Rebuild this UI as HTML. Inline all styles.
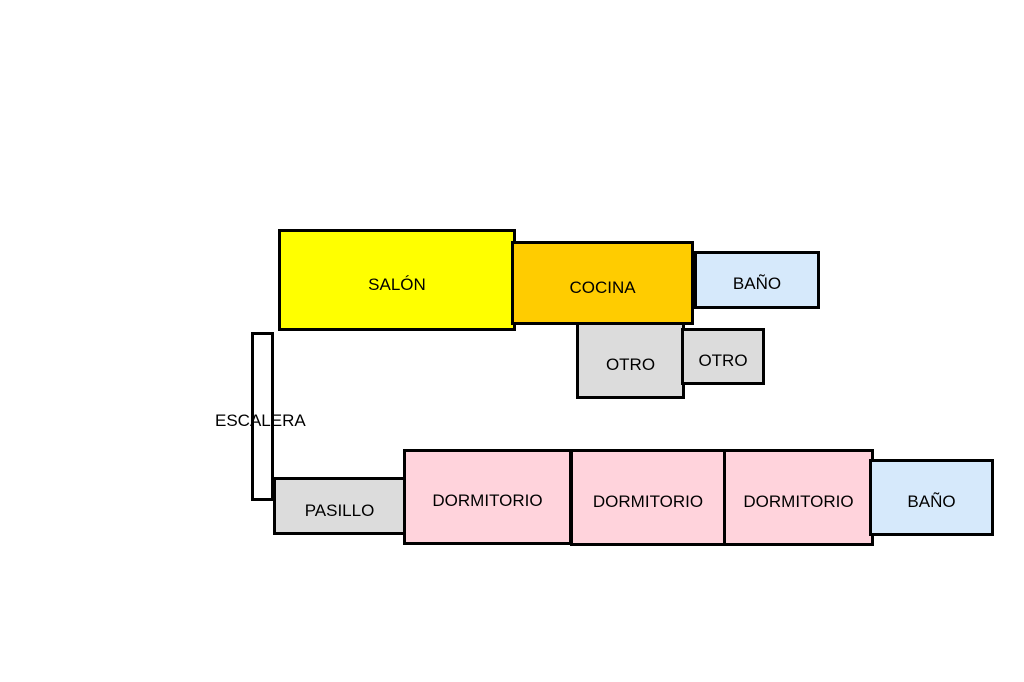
<!DOCTYPE html>
<html><head><meta charset="utf-8"><style>
body{margin:0;width:1024px;height:682px;background:#fff;position:relative;overflow:hidden;font-family:"Liberation Sans",Arial,sans-serif;}
.r{position:absolute;box-sizing:border-box;border:3px solid #000;display:flex;align-items:center;justify-content:center;font-size:17px;color:#000;}
.t{position:absolute;font-size:17px;}
</style></head><body>
<div class="r" style="left:251px;top:332px;width:23px;height:169px;background:#fff"></div>
<div class="r" style="left:278px;top:229px;width:238px;height:102px;background:#ffff00;padding-top:10px">SALÓN</div>
<div class="r" style="left:576px;top:322px;width:109px;height:77px;background:#dcdcdc;padding-top:9px">OTRO</div>
<div class="r" style="left:681px;top:328px;width:84px;height:57px;background:#dcdcdc;padding-top:9px">OTRO</div>
<div class="r" style="left:511px;top:241px;width:183px;height:84px;background:#ffcc00;padding-top:10px">COCINA</div>
<div class="r" style="left:694px;top:251px;width:126px;height:58px;background:#d6e9fb;padding-top:8px">BAÑO</div>
<div class="r" style="left:273px;top:477px;width:133px;height:58px;background:#dcdcdc;padding-top:9px">PASILLO</div>
<div class="r" style="left:403px;top:449px;width:169px;height:96px;background:#ffd3dc;padding-top:8px">DORMITORIO</div>
<div class="r" style="left:570px;top:449px;width:156px;height:97px;background:#ffd3dc;padding-top:9px">DORMITORIO</div>
<div class="r" style="left:723px;top:449px;width:151px;height:97px;background:#ffd3dc;padding-top:9px">DORMITORIO</div>
<div class="r" style="left:869px;top:459px;width:125px;height:77px;background:#d6e9fb;padding-top:9px">BAÑO</div>
<div class="t" style="left:215px;top:411px">ESCALERA</div>
</body></html>
